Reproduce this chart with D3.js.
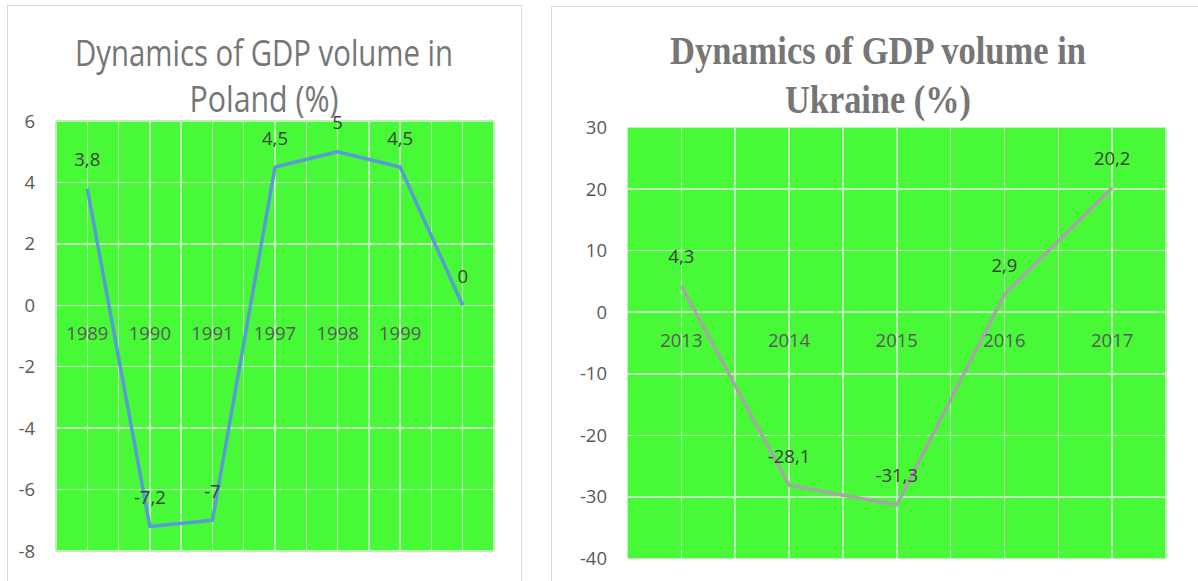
<!DOCTYPE html>
<html>

<head>
    <meta charset="utf-8" />
    <script src="https://d3js.org/d3.v7.min.js"></script>
    <style>
        body { margin: 0; background: #fff; }
        .tick-label { font: 18.5px "Open Sans", sans-serif; fill: #595959; }
        .data-label { font: 18.5px "Open Sans", sans-serif; fill: #404040; }
        .grid { stroke: #bfeeb8; stroke-width: 1.5px; shape-rendering: crispEdges; }
        .panel { fill: #fff; stroke: #d9d9d9; stroke-width: 1px; }
    </style>
</head>

<body>
    <svg id="chart" width="1198" height="581"></svg>

    <script>
        // Poland
        const polandYears = ["1989", "1990", "1991", "1997", "1998", "1999", ""];
        const polandGdp = [3.8, -7.2, -7, 4.5, 5, 4.5, 0];
        const polandTicks = [-8, -6, -4, -2, 0, 2, 4, 6];

        // Ukraine
        const ukraineYears = ["2013", "2014", "2015", "2016", "2017"];
        const ukraineGdp = [4.3, -28.1, -31.3, 2.9, 20.2];
        const ukraineTicks = [-40, -30, -20, -10, 0, 10, 20, 30];

        const fmt = v => String(v).replace(".", ",");
        const svg = d3.select("#chart");

        // panel frames
        svg.append("rect").attr("class", "panel")
            .attr("x", 7.5).attr("y", 5.5).attr("width", 514).attr("height", 620);
        svg.append("rect").attr("class", "panel")
            .attr("x", 551.5).attr("y", 6.5).attr("width", 700).attr("height", 620);

        function drawChart(o) {
            const g = svg.append("g");
            const x = d3.scaleBand().domain(o.cats).range([o.left, o.right]);
            const y = d3.scaleLinear().domain(d3.extent(o.ticks)).range([o.bottom, o.top]);
            const half = x.bandwidth() / 2;

            g.append("rect")
                .attr("x", o.left).attr("y", o.top)
                .attr("width", o.right - o.left).attr("height", o.bottom - o.top)
                .attr("fill", "#47f937");

            // vertical gridlines: band edges and band centres
            const vx = [];
            o.cats.forEach((c, i) => {
                vx.push(x.step() * i + o.left);
                vx.push(x.step() * i + o.left + half);
            });
            vx.push(o.right);
            g.selectAll(".vgrid").data(vx).enter().append("line")
                .attr("class", "grid")
                .attr("x1", d => d).attr("x2", d => d)
                .attr("y1", o.top).attr("y2", o.bottom);

            g.selectAll(".hgrid").data(o.ticks).enter().append("line")
                .attr("class", "grid")
                .attr("x1", o.left).attr("x2", o.right)
                .attr("y1", d => y(d)).attr("y2", d => y(d));

            // y tick labels
            g.selectAll(".ylab").data(o.ticks).enter().append("text")
                .attr("class", "tick-label")
                .attr("text-anchor", "end")
                .attr("x", o.yLabelX)
                .attr("y", d => y(d) + 6.5)
                .text(d => d);

            // category labels, under the zero line
            g.selectAll(".xlab").data(o.cats).enter().append("text")
                .attr("class", "tick-label")
                .attr("text-anchor", "middle")
                .attr("x", d => x(d) + half)
                .attr("y", y(0) + 35)
                .text(d => d);

            const pts = o.cats.map((c, i) => [x(c) + half, y(o.values[i]), o.values[i]]);

            g.append("path")
                .datum(pts)
                .attr("fill", "none")
                .attr("stroke", o.color)
                .attr("stroke-width", 3.5)
                .attr("stroke-linejoin", "round")
                .attr("d", d3.line().x(d => d[0]).y(d => d[1]));

            g.selectAll(".dlab").data(pts).enter().append("text")
                .attr("class", "data-label")
                .attr("text-anchor", "middle")
                .attr("x", d => d[0])
                .attr("y", d => d[1] - 22.5)
                .text(d => fmt(d[2]));

            // title, two lines
            o.title.forEach((t, i) => {
                g.append("text")
                    .attr("x", o.titleX)
                    .attr("y", o.titleY[i])
                    .attr("text-anchor", "middle")
                    .attr("textLength", o.titleLen[i])
                    .attr("lengthAdjust", "spacingAndGlyphs")
                    .style("font-family", o.titleFont)
                    .style("font-weight", o.titleWeight)
                    .style("font-size", o.titleSize + "px")
                    .style("fill", "#767676")
                    .text(t);
            });
        }

        drawChart({
            cats: polandYears, values: polandGdp, ticks: polandTicks,
            left: 56, right: 494, top: 121, bottom: 551,
            yLabelX: 35, color: "#5b9bd5",
            title: ["Dynamics of GDP volume in", "Poland (%)"],
            titleX: 264, titleY: [66, 112], titleLen: [378, 149],
            titleFont: "'Open Sans', sans-serif", titleWeight: 400, titleSize: 36
        });

        drawChart({
            cats: ukraineYears, values: ukraineGdp, ticks: ukraineTicks,
            left: 627.5, right: 1166, top: 127.5, bottom: 558.5,
            yLabelX: 607, color: "#a5a5a5",
            title: ["Dynamics of GDP volume in", "Ukraine (%)"],
            titleX: 878, titleY: [64, 112.5], titleLen: [416, 186],
            titleFont: "'Liberation Serif', 'Times New Roman', serif", titleWeight: 700, titleSize: 39
        });
    </script>
</body>

</html>
